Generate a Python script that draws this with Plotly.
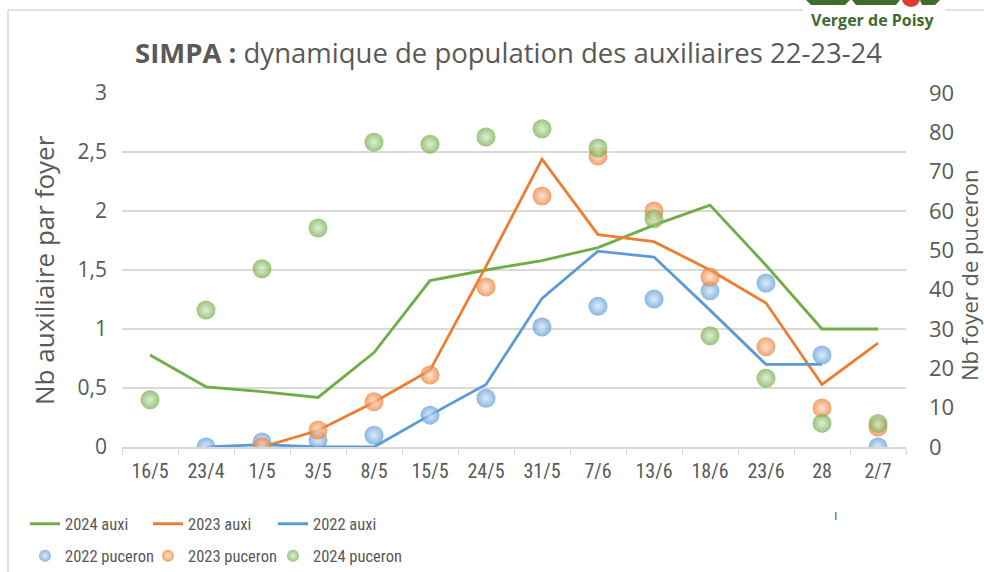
import plotly.graph_objects as go

categories = ["16/5", "23/4", "1/5", "3/5", "8/5", "15/5", "24/5", "31/5", "7/6", "13/6", "18/6", "23/6", "28", "2/7"]

auxi_2024 = [0.78, 0.51, 0.47, 0.42, 0.80, 1.41, 1.50, 1.58, 1.69, 1.88, 2.05, 1.54, 1.00, 1.00]
auxi_2023 = [None, None, 0.00, 0.14, 0.38, 0.65, 1.53, 2.44, 1.80, 1.74, 1.50, 1.22, 0.53, 0.88]
auxi_2022 = [None, 0.00, 0.02, 0.00, 0.00, 0.27, 0.53, 1.26, 1.66, 1.61, 1.16, 0.70, 0.70, None]

puceron_2022 = [None, 0, 1.3, 1.8, 3.0, 8.1, 12.4, 30.5, 35.8, 37.6, 39.7, 41.7, 23.4, 0]
puceron_2023 = [None, None, 0, 4.3, 11.5, 18.3, 40.7, 63.8, 74.0, 60.0, 43.2, 25.5, 9.9, 5.1]
puceron_2024 = [12.0, 34.8, 45.3, 55.7, 77.5, 77.0, 78.8, 80.9, 76.0, 58.0, 28.3, 17.5, 6.0, 6.0]

left_tickvals = [0, 0.5, 1, 1.5, 2, 2.5, 3]
left_ticktext = ["0", "0,5", "1", "1,5", "2", "2,5", "3"]
right_tickvals = [0, 10, 20, 30, 40, 50, 60, 70, 80, 90]

GREEN, ORANGE, BLUE = "#70ad47", "#ed7d31", "#5b9bd5"
GREEN_L, ORANGE_L, BLUE_L = "#d4e8c6", "#fad9c3", "#d3e4f5"
TXT = "#595959"
FONT = "Open Sans"
NARROW = "Liberation Sans Narrow, Roboto Condensed, Roboto"

# plot area in pixels
L, R, T, B = 122, 906, 93, 447
W, H = 984, 572

def px(x):
    return (x - L) / (R - L)

def py(y):
    return (B - y) / (B - T)

fig = go.Figure()

line_series = [("2024 auxi", auxi_2024, GREEN), ("2023 auxi", auxi_2023, ORANGE), ("2022 auxi", auxi_2022, BLUE)]
dot_series = [("2022 puceron", puceron_2022, BLUE, BLUE_L),
              ("2023 puceron", puceron_2023, ORANGE, ORANGE_L),
              ("2024 puceron", puceron_2024, GREEN, GREEN_L)]

legend_x = [25, 148, 273]
legend_names = ["legend", "legend2", "legend3", "legend4", "legend5", "legend6"]
legend_layout = {}

for i, (name, vals, col) in enumerate(line_series):
    lg = legend_names[i]
    fig.add_trace(go.Scatter(x=categories, y=vals, name=name, mode="lines",
                             line=dict(color=col, width=2.8), legend=lg, showlegend=True,
                             connectgaps=False))
    legend_layout[lg] = dict(orientation="h", xref="container", yref="container",
                             x=legend_x[i] / W, y=1 - 524 / H, xanchor="left", yanchor="middle",
                             font=dict(family=NARROW, size=16.5, color=TXT),
                             bgcolor="rgba(0,0,0,0)", itemwidth=30, visible=True)

for i, (name, vals, col, light) in enumerate(dot_series):
    lg = legend_names[3 + i]
    fig.add_trace(go.Scatter(x=categories, y=vals, name=name, mode="markers", yaxis="y2",
                             marker=dict(size=19, color=col, opacity=0.72,
                                         gradient=dict(type="radial", color=light),
                                         line=dict(width=0)),
                             legend=lg, showlegend=True))
    legend_layout[lg] = dict(orientation="h", xref="container", yref="container",
                             x=legend_x[i] / W, y=1 - 556 / H, xanchor="left", yanchor="middle",
                             itemsizing="constant",
                             font=dict(family=NARROW, size=16.5, color=TXT),
                             bgcolor="rgba(0,0,0,0)", itemwidth=30, visible=True)

shapes = [
    dict(type="line", xref="paper", yref="paper", x0=px(8), x1=px(984), y0=py(10), y1=py(10),
         line=dict(color="#d9d9d9", width=1.5), layer="below"),
    dict(type="line", xref="paper", yref="paper", x0=px(8), x1=px(8), y0=py(10), y1=py(572),
         line=dict(color="#d9d9d9", width=1.5), layer="below"),
    dict(type="rect", xref="paper", yref="paper", x0=px(803), x1=px(945), y0=py(0), y1=py(32),
         fillcolor="white", line=dict(width=0), layer="above"),
    dict(type="path", xref="paper", yref="paper",
         path=f"M {px(806)},{py(0)} L {px(850)},{py(0)} L {px(845)},{py(5)} L {px(811)},{py(5)} Z",
         fillcolor="#3f6b2f", line=dict(width=0), layer="above"),
    dict(type="path", xref="paper", yref="paper",
         path=f"M {px(852)},{py(0)} L {px(900)},{py(0)} L {px(896)},{py(5)} L {px(856)},{py(5)} Z",
         fillcolor="#3f6b2f", line=dict(width=0), layer="above"),
    dict(type="path", xref="paper", yref="paper",
         path=f"M {px(920)},{py(0)} L {px(940)},{py(0)} L {px(935)},{py(5)} L {px(922)},{py(5)} Z",
         fillcolor="#3f6b2f", line=dict(width=0), layer="above"),
    dict(type="circle", xref="paper", yref="paper", x0=px(902), x1=px(920), y0=py(-10), y1=py(7),
         fillcolor="#e03b2f", line=dict(width=0), layer="above"),
]

annotations = [
    dict(text="<b>SIMPA :</b> dynamique de population des auxiliaires 22-23-24", xref="paper", yref="paper",
         x=px(508), y=py(52), showarrow=False, font=dict(family=FONT, size=27.5, color=TXT),
         xanchor="center", yanchor="middle"),
    dict(text="Nb auxiliaire par foyer", xref="paper", yref="paper", x=px(44), y=py(270),
         textangle=-90, showarrow=False, font=dict(family=FONT, size=26, color=TXT),
         xanchor="center", yanchor="middle"),
    dict(text="Nb foyer de puceron", xref="paper", yref="paper", x=px(969), y=py(275),
         textangle=-90, showarrow=False, font=dict(family=FONT, size=22, color=TXT),
         xanchor="center", yanchor="middle"),
    dict(text="<b>Verger de Poisy</b>", xref="paper", yref="paper", x=px(873), y=py(20),
         showarrow=False, font=dict(family=FONT, size=16, color="#3f6b2f"),
         xanchor="center", yanchor="middle"),
    dict(text="ı", xref="paper", yref="paper", x=px(836), y=py(514), showarrow=False,
         font=dict(family=FONT, size=14, color=TXT), xanchor="center", yanchor="middle"),
]

fig.update_layout(
    width=W, height=H,
    showlegend=True,
    margin=dict(l=L, r=W - R, t=T, b=H - B, autoexpand=False),
    paper_bgcolor="white", plot_bgcolor="white",
    font=dict(family=FONT, color=TXT, size=16),
    xaxis=dict(type="category", categoryorder="array", categoryarray=categories,
               range=[-0.5, 13.5], showgrid=False, showline=True, linecolor="#d9d9d9", linewidth=1.5,
               ticks="outside", tickson="boundaries", ticklen=6, tickcolor="#d9d9d9",
               tickfont=dict(family=NARROW, size=20, color=TXT), zeroline=False,
               ticklabelstandoff=5, automargin=False),
    yaxis=dict(range=[0, 3], tickvals=left_tickvals, ticktext=left_ticktext,
               showgrid=True, gridcolor="#d9d9d9", gridwidth=1.5, zeroline=False,
               tickfont=dict(family=FONT, size=21, color=TXT), ticklabelstandoff=14, automargin=False),
    yaxis2=dict(range=[0, 90], tickvals=right_tickvals, overlaying="y", side="right",
                showgrid=False, zeroline=False, automargin=False,
                tickfont=dict(family=FONT, size=22, color=TXT), ticklabelstandoff=22),
    shapes=shapes, annotations=annotations,
    **legend_layout,
)

fig.write_html("out.html", config={"displayModeBar": False},
               post_script="document.body.style.margin='0';document.body.style.overflow='hidden';")
